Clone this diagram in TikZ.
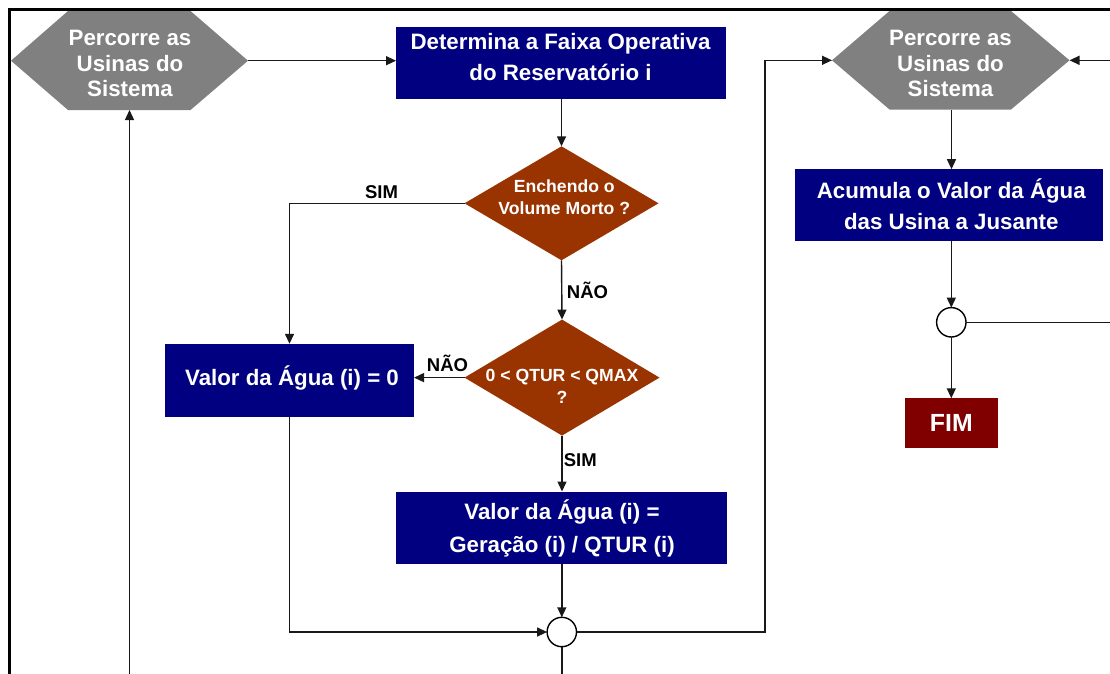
\documentclass[tikz,border=0pt]{standalone}
\usepackage{fontspec}
\setmainfont{Liberation Sans}
\usetikzlibrary{arrows.meta,shapes.geometric}

\definecolor{procblue}{HTML}{000080}
\definecolor{testrust}{HTML}{993300}
\definecolor{endred}{HTML}{800000}
\definecolor{loopgray}{HTML}{808080}

\begin{document}
\begin{tikzpicture}[x=1pt,y=-1pt,
  procbox/.style={rectangle, fill=procblue, inner sep=0pt, outer sep=0pt},
  endbox/.style={rectangle, fill=endred, inner sep=0pt, outer sep=0pt},
  decision/.style={diamond, fill=testrust, inner sep=0pt, outer sep=0pt},
  boxtext/.style={text=white, align=center, inner sep=0pt, font=\bfseries\fontsize{22.3}{#1}\selectfont},
  boxtext/.default=31,
  dectext/.style={text=white, align=center, inner sep=0pt, font=\bfseries\fontsize{17.6}{22}\selectfont},
  tag/.style={anchor=base, inner sep=0pt, font=\bfseries\fontsize{18.5}{20}\selectfont},
  link/.style={line width=1.4pt, draw=black!90},
  arr/.style={link, -{Triangle[length=10pt,width=9pt]}},
  junction/.style={circle, draw=black, line width=1.4pt, fill=white, minimum size=29.4pt, inner sep=0pt, outer sep=0pt},
]
\useasboundingbox (0,0) rectangle (1110,673);
\clip (0,0) rectangle (1110,673);

% outer frame
\draw[line width=3pt] (1120,9.5) -- (9.5,9.5) -- (9.5,690);

% loop hexagons
\fill[loopgray] (11,60.7) -- (68,11) -- (190.5,11) -- (248,60.7) -- (190.5,110) -- (68,110) -- cycle;
\coordinate (h1e) at (248,60.7);
\coordinate (h1s) at (129.5,110);
\node[boxtext=25.2] (h1) at (130,63.5) {Percorre as\\Usinas do\\Sistema};

\fill[loopgray] (832,60.3) -- (889.5,11) -- (1011,11) -- (1069.5,60.3) -- (1011,109.5) -- (889.5,109.5) -- cycle;
\coordinate (h2w) at (832,60.3);
\coordinate (h2e) at (1069.5,60.3);
\coordinate (h2s) at (951.5,109.5);
\node[boxtext=25.2] (h2) at (950.5,63.5) {Percorre as\\Usinas do\\Sistema};

% process boxes
\node[procbox, minimum width=330pt, minimum height=72pt] (b1) at (561,63) {};
\node[boxtext=31] (b1t) at (560.5,57.4) {Determina a Faixa Operativa\\do Reservatório i};

\node[procbox, minimum width=249pt, minimum height=73pt] (b0) at (289.5,380.3) {};
\node[boxtext, anchor=base] (b0t) at (292,385) {Valor da Água (i) = 0};

\node[procbox, minimum width=331pt, minimum height=72pt] (b3) at (561.2,527.5) {};
\node[boxtext=33] (b3t) at (562,528.7) {Valor da Água (i) =\\Geração (i) / QTUR (i)};

\node[procbox, minimum width=308pt, minimum height=72pt] (b4) at (949,205.2) {};
\node[boxtext=30.6] (b4t) at (951.3,204) {Acumula o Valor da Água\\das Usina a Jusante};

\node[endbox, minimum width=93pt, minimum height=49.5pt] (fim) at (951.3,423) {};
\node[anchor=base, text=white, inner sep=0pt, font=\bfseries\fontsize{24.8}{26}\selectfont] (fimt) at (951.3,431.7) {FIM};

% decisions
\node[decision, minimum width=194pt, minimum height=114pt] (d1) at (561.5,203.3) {};
\node[dectext] (d1t) at (564.3,197.2) {Enchendo o\\Volume Morto ?};

\node[decision, minimum width=195pt, minimum height=116pt] (d2) at (562,377.6) {};
\node[dectext] (d2t) at (562,386.5) {0 < QTUR < QMAX\\?};

% junctions
\node[junction] (j1) at (561.8,632) {};
\node[junction] (j2) at (951.3,322.3) {};

% branch labels
\node[tag] (sim1) at (381.5,198.3) {SIM};
\node[tag] (nao1) at (587.5,298.3) {NÃO};
\node[tag] (nao2) at (447.5,371) {NÃO};
\node[tag] (sim2) at (580.3,466.7) {SIM};

% free ends of connectors leaving the page
\coordinate (loopin) at (129.5,690);
\coordinate (j1out) at (561.8,690);
\coordinate (rightin) at (1120,60.3);
\coordinate (j2out) at (1120,322.3);
\coordinate (bend) at (765,60.3);

% connectors
\draw[arr] (h1e) -- (h1e -| b1.west);
\draw[arr] (b1.south -| d1.north) -- (d1.north);
\draw[arr] (d1.west) -| (b0.north);
\draw[arr] (d1.south) -- (d2.north);
\draw[arr] (d2.west) -- (d2.west -| b0.east);
\draw[arr] (d2.south) -- (d2.south |- b3.north);
\draw[arr] (j1 |- b3.south) -- (j1.north);
\draw[arr] (b0.south) |- (j1.west);
\draw[link] (j1.south) -- (j1out);
\draw[arr] (j1.east) -| (bend) -- (h2w);
\draw[arr] (loopin) -- (h1s);
\draw[arr] (rightin) -- (h2e);
\draw[arr] (h2s) -- (h2s |- b4.north);
\draw[arr] (j2 |- b4.south) -- (j2.north);
\draw[arr] (j2.south) -- (fim.north);
\draw[link] (j2.east) -- (j2out);
\end{tikzpicture}
\end{document}
